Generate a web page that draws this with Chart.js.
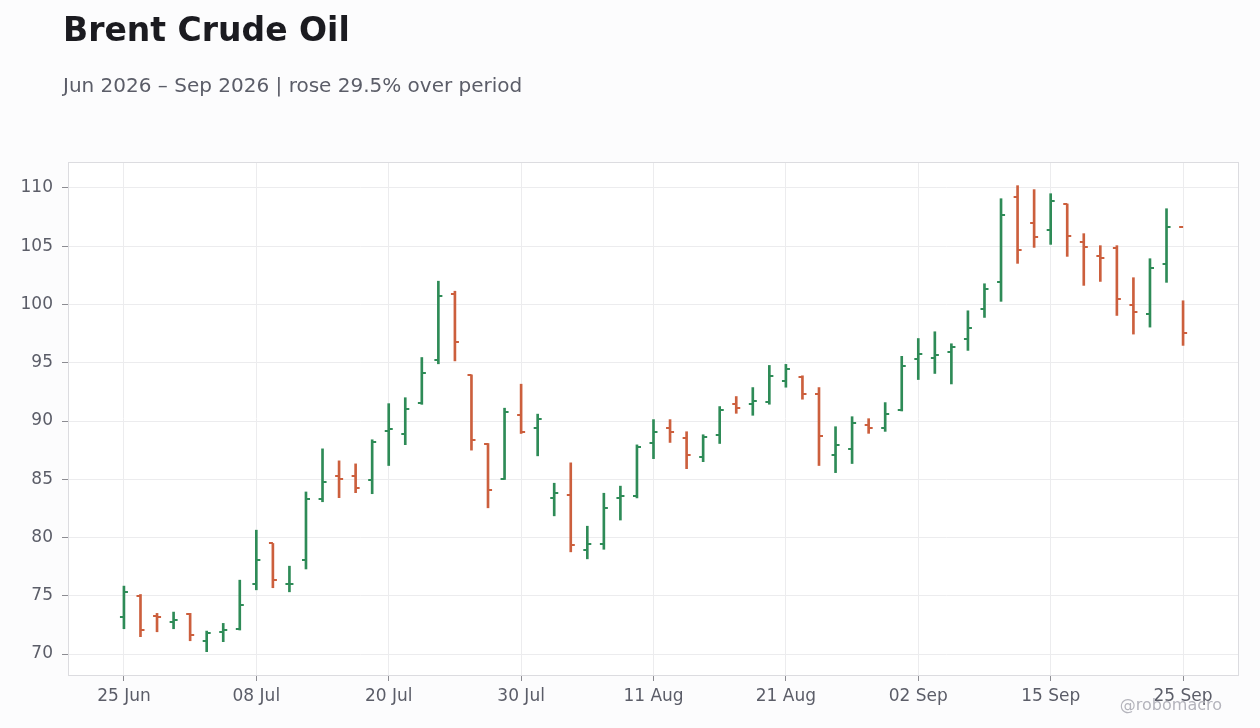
<!DOCTYPE html>
<html>
<head>
<meta charset="utf-8">
<title>Brent Crude Oil</title>
<script src="https://cdn.jsdelivr.net/npm/chart.js@4.4.1/dist/chart.umd.min.js"></script>
<style>
  html, body { margin: 0; padding: 0; background: #fcfcfd; }
  #wrap { position: relative; width: 1260px; height: 728px; font-family: "DejaVu Sans", sans-serif; }
  canvas { position: absolute; left: 0; top: 0; }
  h1 { position: absolute; left: 63px; top: 13px; margin: 0; font-size: 33px; line-height: 1; font-weight: bold; color: #1b1b20; white-space: nowrap; }
  .sub { position: absolute; left: 63px; top: 75px; margin: 0; font-size: 20px; line-height: 1; color: #5b5d68; white-space: nowrap; }
  .credit { position: absolute; right: 38px; top: 697px; font-size: 16px; line-height: 1; color: #b4b4bc; }
</style>
</head>
<body>
<div id="wrap">
  <canvas id="chart" width="1260" height="728"></canvas>
  <h1>Brent Crude Oil</h1>
  <p class="sub">Jun 2026 – Sep 2026 | rose 29.5% over period</p>
  <div class="credit">@robomacro</div>
</div>
<script>
// trading days (no Jul 3, no Labor Day)
const dates = [
  '25 Jun', '26 Jun', '29 Jun', '30 Jun', '01 Jul', '02 Jul', '06 Jul', '07 Jul',
  '08 Jul', '09 Jul', '10 Jul', '13 Jul', '14 Jul', '15 Jul', '16 Jul', '17 Jul',
  '20 Jul', '21 Jul', '22 Jul', '23 Jul', '24 Jul', '27 Jul', '28 Jul', '29 Jul',
  '30 Jul', '31 Jul', '03 Aug', '04 Aug', '05 Aug', '06 Aug', '07 Aug', '10 Aug',
  '11 Aug', '12 Aug', '13 Aug', '14 Aug', '17 Aug', '18 Aug', '19 Aug', '20 Aug',
  '21 Aug', '24 Aug', '25 Aug', '26 Aug', '27 Aug', '28 Aug', '31 Aug', '01 Sep',
  '02 Sep', '03 Sep', '04 Sep', '08 Sep', '09 Sep', '10 Sep', '11 Sep', '14 Sep',
  '15 Sep', '16 Sep', '17 Sep', '18 Sep', '21 Sep', '22 Sep', '23 Sep', '24 Sep',
  '25 Sep'
];

const opens = [
  73.20, 75.00, 73.25, 72.74, 73.46, 71.14, 71.91, 72.14, 76.03, 79.49,
  76.00, 78.05, 83.33, 85.32, 85.32, 84.97, 89.11, 88.92, 91.58, 95.25,
  100.92, 93.96, 88.04, 85.01, 90.53, 89.41, 83.38, 83.66, 78.94, 79.42,
  83.40, 83.54, 88.07, 89.37, 88.50, 86.95, 88.76, 91.44, 91.44, 91.61,
  93.42, 93.76, 92.30, 87.04, 87.64, 89.63, 89.37, 90.92, 95.30, 95.37,
  95.94, 97.00, 99.58, 101.90, 109.20, 106.97, 106.36, 108.63, 105.36, 104.13,
  104.82, 99.92, 99.15, 103.44, 106.62
];
const highs = [
  75.83, 75.11, 73.49, 73.60, 73.49, 71.97, 72.63, 76.34, 80.63, 79.49,
  77.54, 83.91, 87.61, 86.58, 86.32, 88.39, 91.49, 92.00, 95.45, 102.00,
  101.14, 93.96, 88.07, 91.10, 93.16, 90.59, 84.66, 86.41, 80.97, 83.80,
  84.41, 87.95, 90.12, 90.12, 89.08, 88.82, 91.24, 92.10, 92.87, 94.77,
  94.86, 93.88, 92.87, 89.51, 90.37, 90.20, 91.58, 95.55, 97.08, 97.66,
  96.63, 99.46, 101.78, 109.08, 110.20, 109.86, 109.51, 108.63, 106.08, 105.05,
  105.05, 102.30, 103.93, 108.22, 100.32
];
const lows = [
  72.17, 71.49, 71.91, 72.17, 71.14, 70.20, 71.06, 72.06, 75.51, 75.69,
  75.34, 77.30, 83.07, 83.42, 83.85, 83.76, 86.18, 87.97, 91.43, 94.91,
  95.16, 87.50, 82.55, 84.98, 88.93, 87.01, 81.86, 78.77, 78.17, 78.99,
  81.50, 83.40, 86.77, 88.16, 85.91, 86.51, 88.07, 90.66, 90.49, 91.44,
  92.90, 91.87, 86.18, 85.57, 86.35, 88.94, 89.11, 90.86, 93.56, 94.08,
  93.18, 96.06, 98.89, 100.27, 103.53, 104.90, 105.16, 104.13, 101.64, 101.98,
  99.06, 97.46, 98.06, 101.90, 96.49
];
const closes = [
  75.34, 72.06, 73.15, 72.94, 71.66, 71.83, 72.06, 74.23, 78.09, 76.37,
  76.05, 83.33, 84.80, 85.06, 84.28, 88.16, 89.28, 91.06, 94.13, 100.74,
  96.80, 88.38, 84.09, 90.79, 89.04, 90.19, 83.83, 79.37, 79.46, 82.54,
  83.57, 87.81, 89.02, 89.02, 87.12, 88.59, 90.92, 91.08, 91.70, 93.85,
  94.45, 92.30, 88.68, 87.90, 89.80, 89.37, 90.57, 94.71, 95.73, 95.63,
  96.32, 97.95, 101.30, 107.65, 104.65, 105.76, 108.85, 105.91, 104.90, 103.96,
  100.44, 99.32, 103.16, 106.62, 97.52
];

const xTickDates = ['25 Jun', '08 Jul', '20 Jul', '30 Jul', '11 Aug', '21 Aug', '02 Sep', '15 Sep', '25 Sep'];
const yTicks = [70, 75, 80, 85, 90, 95, 100, 105, 110];

const GREEN = '#2e8b57';
const RED = '#cc5f3d';

const up = closes.map((c, i) => c >= opens[i]);
const colorOf = i => (up[i] ? GREEN : RED);

// open tick sits left of the bar, close tick right of it
function tickMark(color, side) {
  const c = document.createElement('canvas');
  c.width = 10;
  c.height = 2;
  const g = c.getContext('2d');
  g.fillStyle = color;
  g.fillRect(side === 'open' ? 1 : 5, 0, 4, 2);
  return c;
}
const marks = {
  open: { up: tickMark(GREEN, 'open'), down: tickMark(RED, 'open') },
  close: { up: tickMark(GREEN, 'close'), down: tickMark(RED, 'close') }
};

const plotFrame = {
  id: 'plotFrame',
  beforeDraw(chart) {
    const { ctx, chartArea: a } = chart;
    ctx.save();
    ctx.fillStyle = '#ffffff';
    ctx.fillRect(a.left, a.top, a.right - a.left, a.bottom - a.top);
    ctx.restore();
  },
  beforeDatasetsDraw(chart) {
    const { ctx, chartArea: a } = chart;
    ctx.save();
    ctx.strokeStyle = '#dcdce0';
    ctx.lineWidth = 1;
    ctx.strokeRect(a.left + 0.5, a.top + 0.5, a.right - a.left - 1, a.bottom - a.top);
    ctx.restore();
  }
};

Chart.defaults.font.family = '"DejaVu Sans", sans-serif';

const xTickIdx = xTickDates.map(d => dates.indexOf(d));
const pad = 3.38;

new Chart(document.getElementById('chart'), {
  type: 'bar',
  data: {
    datasets: [
      {
        type: 'bar',
        data: dates.map((d, i) => ({ x: i, y: [lows[i], highs[i]] })),
        backgroundColor: dates.map((d, i) => colorOf(i)),
        barThickness: 2,
        borderWidth: 0,
        borderSkipped: false,
        grouped: false
      },
      {
        type: 'scatter',
        data: opens.map((v, i) => ({ x: i, y: v })),
        pointStyle: c => marks.open[up[c.dataIndex] ? 'up' : 'down'],
        pointRadius: 3
      },
      {
        type: 'scatter',
        data: closes.map((v, i) => ({ x: i, y: v })),
        pointStyle: c => marks.close[up[c.dataIndex] ? 'up' : 'down'],
        pointRadius: 3
      }
    ]
  },
  options: {
    responsive: false,
    animation: false,
    events: [],
    layout: { padding: { top: 162, right: 21, left: 0, bottom: 0 } },
    plugins: { legend: { display: false }, tooltip: { enabled: false } },
    scales: {
      x: {
        type: 'linear',
        min: -pad,
        max: dates.length - 1 + pad,
        offset: false,
        afterBuildTicks: s => { s.ticks = xTickIdx.map(v => ({ value: v })); },
        afterFit: s => { s.height = 53; },
        grid: { offset: false, color: '#ececee', tickColor: '#8c8c92', tickLength: 6 },
        border: { display: false },
        ticks: {
          callback: v => dates[v],
          color: '#5b5d68',
          font: { size: 17 },
          padding: 5,
          maxRotation: 0,
          autoSkip: false
        }
      },
      y: {
        min: 68.2,
        max: 112.23,
        afterBuildTicks: s => { s.ticks = yTicks.map(v => ({ value: v })); },
        afterFit: s => { s.width = 68; },
        grid: { color: '#ececee', tickColor: '#8c8c92', tickLength: 6 },
        border: { display: false },
        ticks: { color: '#5b5d68', font: { size: 17 }, padding: 9 }
      }
    }
  },
  plugins: [plotFrame]
});
</script>
</body>
</html>
